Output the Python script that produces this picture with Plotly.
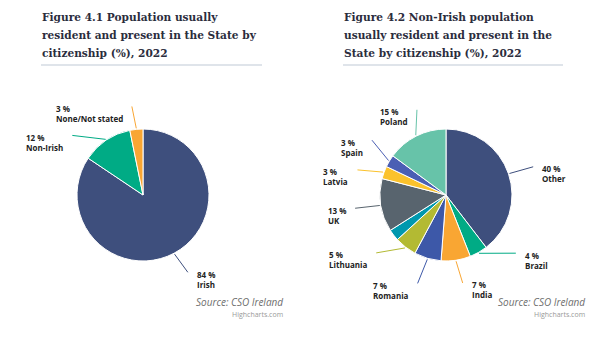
import math
import plotly.graph_objects as go

W, H = 600, 342

# ---------------- data ----------------
left_labels = ["Irish", "Non-Irish", "None/Not stated"]
left_values = [84.4, 12.4, 3.2]

right_labels = ["Other", "Brazil", "India", "Romania", "Lithuania", "Italy",
                "UK", "Latvia", "Spain", "Poland"]
right_values = [39.6, 4.4, 7.2, 6.6, 5.4, 2.8, 13.0, 3.1, 3.0, 14.9]

left_title = ["Figure 4.1 Population usually",
              "resident and present in the State by",
              "citizenship (%), 2022"]
right_title = ["Figure 4.2 Non-Irish population",
               "usually resident and present in the",
               "State by citizenship (%), 2022"]
source_text = "Source: CSO Ireland"
credit_text = "Highcharts.com"

# ---------------- styles ----------------
left_colors = ["#3e4f7d", "#00ab85", "#f9a633"]
right_colors = ["#3e4f7d", "#00ab85", "#f9a633", "#3d58a8", "#b3ba33", "#0098ae",
                "#58646e", "#fbc22c", "#4b5fb4", "#67c3a9"]
right_hidden = {"Italy"}

# pie geometry (pixels)
pies = {
    "left": dict(cx=143, cy=195, r=66),
    "right": dict(cx=446, cy=195, r=66),
}
# Highcharts-like label shifts for connector ends (pixels)
nudges = {
    "left": {"Irish": (2, -3), "Non-Irish": (-20, 16), "None/Not stated": (-2, 2)},
    "right": {"Other": (1, 1), "Brazil": (25, -21), "India": (3, -2),
              "Romania": (-3, 1), "Lithuania": (-14, -14), "UK": (-1, -1),
              "Latvia": (-3, 6), "Spain": (4, -8), "Poland": (12, -4)},
}
LABEL_FONT = dict(family="Open Sans", size=8, color="#222222", weight="bold")
TITLE_FONT = dict(family="DejaVu Serif", size=10.6, color="#2b2d3d", weight="bold")


def px(x):
    return x / W


def py(y):
    return 1 - y / H


fig = go.Figure()
shapes = []
annotations = []


def add_pie(key, labels, values, colors):
    g = pies[key]
    cx, cy, r = g["cx"], g["cy"], g["r"]
    fig.add_trace(go.Pie(
        labels=labels, values=values, sort=False, direction="clockwise",
        rotation=0, textinfo="none", hoverinfo="label+percent",
        marker=dict(colors=colors, line=dict(color="white", width=1)),
        domain=dict(x=[px(cx - r), px(cx + r)], y=[py(cy + r), py(cy - r)]),
        showlegend=False,
    ))
    total = sum(values)
    cum = 0.0
    for lab, val, col in zip(labels, values, colors):
        mid = (cum + val / 2) / total * 2 * math.pi
        cum += val
        if lab in right_hidden:
            continue
        s, c = math.sin(mid), math.cos(mid)
        ex, ey = cx + (r + 1) * s, cy - (r + 1) * c
        dx, dy = nudges[key].get(lab, (0, 0))
        tx, ty = cx + (r + 25) * s + dx, cy - (r + 25) * c + dy
        shapes.append(dict(type="line", xref="paper", yref="paper",
                           x0=px(ex), y0=py(ey), x1=px(tx), y1=py(ty),
                           line=dict(color=col, width=1)))
        left_side = s < 0
        annotations.append(dict(
            xref="paper", yref="paper", showarrow=False,
            x=px(tx - 7 if left_side else tx + 7), y=py(ty + 7),
            xanchor="right" if left_side else "left", yanchor="middle",
            align="left", text=f"{round(val / total * 100)} %<br>{lab}",
            font=LABEL_FONT))


add_pie("left", left_labels, left_values, left_colors)
add_pie("right", right_labels, right_values, right_colors)

# titles
for x0, x1, lines in [(41, 262, left_title), (343, 563, right_title)]:
    for i, line in enumerate(lines):
        annotations.append(dict(xref="paper", yref="paper", showarrow=False,
                                x=px(x0 - 1), y=py(17 + i * 18), xanchor="left",
                                yanchor="middle", text=line, font=TITLE_FONT))
    shapes.append(dict(type="line", xref="paper", yref="paper",
                       x0=px(x0), x1=px(x1), y0=py(65), y1=py(65),
                       line=dict(color="#dfe4ea", width=2)))

# sources and credits
for xr in [285, 587]:
    annotations.append(dict(xref="paper", yref="paper", showarrow=False,
                            x=px(xr), y=py(302), xanchor="right", yanchor="middle",
                            text=f"<i>{source_text}</i>",
                            font=dict(family="Open Sans", size=10, color="#6e6e6e")))
    annotations.append(dict(xref="paper", yref="paper", showarrow=False,
                            x=px(xr), y=py(314), xanchor="right", yanchor="middle",
                            text=credit_text,
                            font=dict(family="Open Sans", size=7, color="#999999")))

fig.update_layout(
    width=W, height=H, margin=dict(l=0, r=0, t=0, b=0),
    paper_bgcolor="white", plot_bgcolor="white",
    shapes=shapes, annotations=annotations,
)

fig.write_html("out.html")
